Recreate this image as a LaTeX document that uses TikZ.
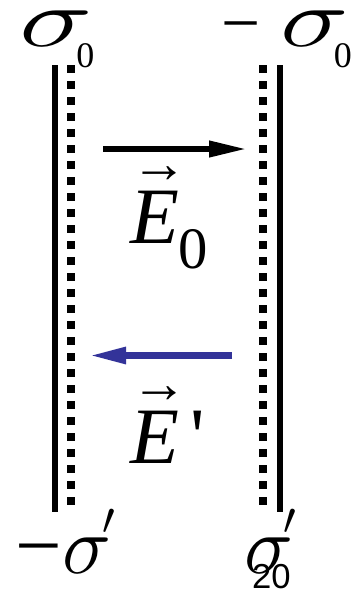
\RequirePackage{fix-cm}
\documentclass[tikz,border=0pt]{standalone}
\usepackage{graphicx}
\usepackage{fontspec}
\setmainfont{Liberation Serif}
\newfontfamily\quotefont{Liberation Serif}
\newfontfamily\pagefont{Liberation Sans}
\usetikzlibrary{arrows.meta}
\definecolor{fieldblue}{RGB}{51,51,153}
\newcommand{\sigfont}{\fontsize{62pt}{62pt}\selectfont}
\newcommand{\minusfont}{\fontsize{52pt}{52pt}\selectfont}
\newcommand{\subfont}{\fontsize{27pt}{27pt}\selectfont}
\newcommand{\efont}{\fontsize{60pt}{60pt}\selectfont}
\newcommand{\esubfont}{\fontsize{44pt}{44pt}\selectfont}
\newcommand{\widesig}[1]{\scalebox{#1}[1]{$\sigma$}}
\newcommand{\sigprime}{$\sigma$\hspace{-7pt}\raisebox{29pt}{\fontsize{34pt}{34pt}\selectfont$\prime$}}
\newcommand{\vecE}{\makebox[0pt][l]{\hspace{0.02em}\raisebox{0.76em}{\fontsize{42pt}{42pt}\selectfont →}}\textit{E}}
\tikzstyle{plate}=[line width=4.5pt,black]
\tikzstyle{layer}=[line width=6pt,dash pattern=on 6pt off 6pt,black]
\tikzstyle{field}=[line width=4.5pt,-{Triangle[length=28.5pt,width=11.5pt]}]
\tikzstyle{lbl}=[anchor=base west,inner sep=0,outer sep=0]

\begin{document}
\begin{tikzpicture}[x=0.75pt,y=-0.75pt]
  \useasboundingbox (0,0) rectangle (357,590);

  % plates and the bound charge layers next to them
  \foreach \s/\xs/\xd in {l/55/71,r/280/263}{
    \coordinate (\s plate top) at (\xs,65);
    \coordinate (\s plate bot) at (\xs,512);
    \coordinate (\s layer top) at (\xd,65);
    \coordinate (\s layer bot) at (\xd,505);
    \draw[plate] (\s plate top) -- (\s plate bot);
    \draw[layer] (\s layer top) -- (\s layer bot);
  }

  % free field and polarisation field
  \coordinate (e0 tail) at (103,149);
  \coordinate (e0 head) at (247,149);
  \draw[field] (e0 tail) -- (e0 head);
  \coordinate (ep tail) at (232,355.5);
  \coordinate (ep head) at (88,355.5);
  \draw[field,fieldblue,line width=5.5pt] (ep tail) -- (ep head);

  % labels
  \node[lbl] (sig0) at (19,46) {\sigfont\widesig{1.5}\hspace{-12pt}\raisebox{-15.75pt}{\subfont 0}};
  \node[lbl] (msig0) at (221,46) {\minusfont −\hspace{15pt}\sigfont\widesig{1.4}\hspace{-11pt}\raisebox{-15.75pt}{\subfont 0}};
  \node[lbl] (e0) at (130,243) {\efont\vecE\raisebox{-19pt}{\esubfont 0}};
  \node[lbl] (ep) at (130,463) {\efont\vecE\hspace{9pt}{\quotefont '}};
  \node[lbl] (msigp) at (16,573) {\fontsize{62pt}{62pt}\selectfont −\sigfont\sigprime};
  \node[lbl] (sigp) at (244,573) {\sigfont\sigprime};
  \node[lbl] (page) at (252,588) {\pagefont\fontsize{26pt}{26pt}\selectfont 20};
\end{tikzpicture}
\end{document}
